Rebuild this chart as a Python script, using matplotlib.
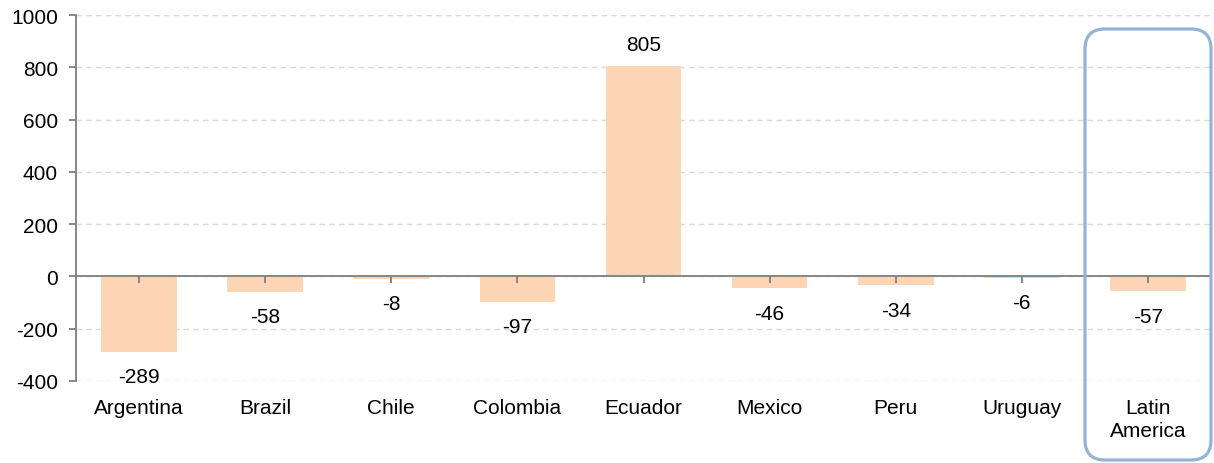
import matplotlib
matplotlib.use('Agg')
import matplotlib.pyplot as plt
from matplotlib.patches import FancyBboxPatch
from matplotlib.transforms import IdentityTransform
import numpy as np

countries = ['Argentina', 'Brazil', 'Chile', 'Colombia', 'Ecuador',
             'Mexico', 'Peru', 'Uruguay', 'Latin\nAmerica']
values = [-289, -58, -8, -97, 805, -46, -34, -6, -57]
yticks = [-400, -200, 0, 200, 400, 600, 800, 1000]

plt.rcParams['font.family'] = ['Liberation Sans', 'DejaVu Sans']
plt.rcParams['font.size'] = 15

fig = plt.figure(figsize=(12.14, 4.64), dpi=100)
ax = fig.add_axes([76 / 1214, 1 - 382 / 464, 1135 / 1214, 366 / 464])

x = np.arange(len(countries))
ax.bar(x, values, width=0.6, color='#FCD5B5', zorder=2)

# dashed gridlines drawn by hand so they stay under the bars while ticks sit on top
for t in yticks:
    ax.axhline(t, linestyle=(0, (4, 3)), color='#D9D9D9', linewidth=1.0, zorder=0.5)

for xi, v in zip(x, values):
    off = 15.5 if v > 0 else -18
    ax.annotate(str(v), (xi, v), xytext=(0, off), textcoords='offset points',
                ha='center', va='center', fontsize=15, color='black', zorder=4)

ax.set_xlim(-0.5, len(countries) - 0.5)
ax.set_ylim(-400, 1000)
ax.set_yticks(yticks)
ax.set_yticklabels([str(t) for t in yticks])
ax.set_axisbelow(False)

for s in ['top', 'right']:
    ax.spines[s].set_visible(False)
ax.spines['bottom'].set_position(('data', 0))
ax.spines['bottom'].set_zorder(3)
for s in ['left', 'bottom']:
    ax.spines[s].set_color('#868686')
    ax.spines[s].set_linewidth(1.4)

ax.set_xticks(x)
ax.set_xticklabels([''] * len(x))
ax.set_xticks([len(countries) - 0.5], minor=True)
ax.tick_params(axis='x', which='both', direction='out', length=5, width=1.4, color='#868686')
ax.tick_params(axis='y', direction='out', length=5, width=1.4, color='#868686', pad=8)

for xi, name in zip(x, countries):
    ax.annotate(name, (xi, -400), xytext=(0, -12), textcoords='offset points',
                ha='center', va='top', fontsize=15, linespacing=1.3,
                annotation_clip=False)

box = FancyBboxPatch((1085, 3), 126, 431, boxstyle='round,pad=0,rounding_size=20',
                     transform=IdentityTransform(), fill=False,
                     edgecolor='#95B3D7', linewidth=2.3, zorder=5)
fig.patches.append(box)

fig.savefig('out.png', dpi=100)
